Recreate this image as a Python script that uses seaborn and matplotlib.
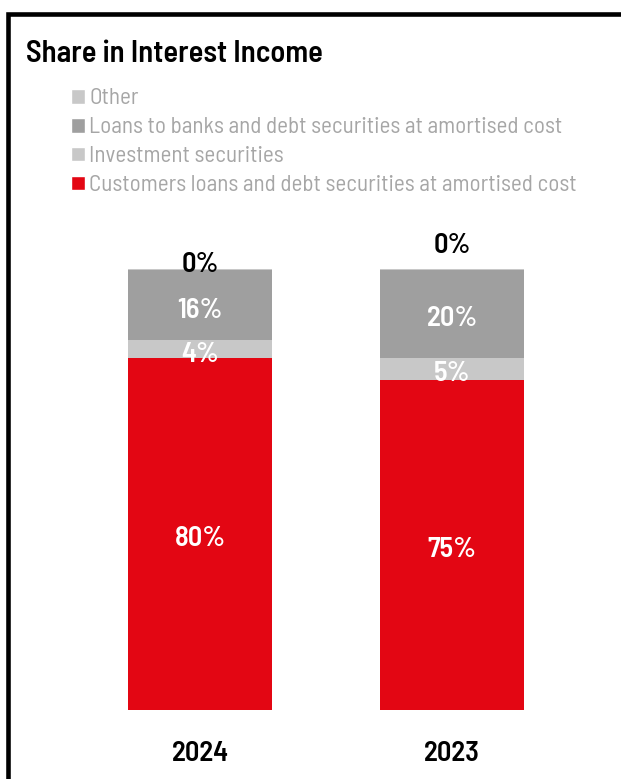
import matplotlib
matplotlib.use("Agg")
import matplotlib.pyplot as plt
import seaborn as sns
import pandas as pd
import numpy as np
from matplotlib.patches import Rectangle, Patch

# ---- data ----
years = ["2024", "2023"]
customers = [80, 75]
investment = [4, 5]
banks = [16, 20]
other = [0.3, 0.3]
label_customers = ["80%", "75%"]
label_investment = ["4%", "5%"]
label_banks = ["16%", "20%"]
label_other = ["0%", "0%"]
series_names = [
    "Other",
    "Loans to banks and debt securities at amortised cost",
    "Investment securities",
    "Customers loans and debt securities at amortised cost",
]
title = "Share in Interest Income"

# ---- style ----
RED = "#E30613"
DARK = "#9F9F9F"
LIGHT = "#C8C8C8"
OTHER_C = "#C8C8C8"
other_label_offset = [1.0, 5.3]
inner_shift = -1.1

sns.set_theme(style="white")
plt.rcParams["font.family"] = ["Barlow Semi Condensed", "Liberation Sans", "DejaVu Sans"]

fig = plt.figure(figsize=(6.21, 7.79), dpi=100)
W, H = 621, 779
ax = fig.add_axes([74 / W, 69 / H, 504 / W, 480 / H])

df = pd.DataFrame({
    "year": years,
    "customers": customers,
    "investment": investment,
    "banks": banks,
    "other": other,
})
df["c1"] = df["customers"]
df["c2"] = df["c1"] + df["investment"]
df["c3"] = df["c2"] + df["banks"]
df["c4"] = df["c3"] + df["other"]

for col, color in [("c4", OTHER_C), ("c3", DARK), ("c2", LIGHT), ("c1", RED)]:
    sns.barplot(data=df, x="year", y=col, color=color, order=years, width=0.571,
                saturation=1, linewidth=0, ax=ax, errorbar=None)

ax.set_xlim(-0.5, 1.5)
ax.set_ylim(0, 480 / 4.4)
ax.set_ylabel("")
ax.set_xlabel("")
ax.set_yticks([])
for s in ax.spines.values():
    s.set_visible(False)
ax.tick_params(axis="x", length=0, pad=22.5, labelsize=20.5)
for t in ax.get_xticklabels():
    t.set_fontweight("semibold")
    t.set_color("black")

LBL = dict(ha="center", va="center", color="white", fontsize=20.5, fontweight="semibold")
for i in range(len(years)):
    r = df.iloc[i]
    ax.text(i, r["c1"] / 2 + inner_shift, label_customers[i], **LBL)
    ax.text(i, r["c1"] + r["investment"] / 2 + inner_shift, label_investment[i], **LBL)
    ax.text(i, r["c2"] + r["banks"] / 2 + inner_shift, label_banks[i], **LBL)
    ax.text(i, r["c4"] + other_label_offset[i], label_other[i], clip_on=False,
            **{**LBL, "color": "black"})

fig.text(26 / W, 1 - 54 / H, title, ha="left", va="center", fontsize=22,
         fontweight="semibold", color="black")

handles = [Patch(facecolor=OTHER_C), Patch(facecolor=DARK), Patch(facecolor=LIGHT), Patch(facecolor=RED)]
fig.legend(handles, series_names, loc="upper left", bbox_to_anchor=(71 / W, 1 - 88.5 / H),
           frameon=False, fontsize=16.6, labelcolor="#A6A6A6", handlelength=0.6,
           handleheight=0.6, handletextpad=0.2, labelspacing=0.34, borderaxespad=0,
           borderpad=0)

fig.patches.append(Rectangle((8 / W, -0.2), 2.0, 1 - 14.5 / H + 0.2, transform=fig.transFigure,
                             fill=False, edgecolor="black", linewidth=3.3, figure=fig))

fig.savefig("out.png", dpi=100)
